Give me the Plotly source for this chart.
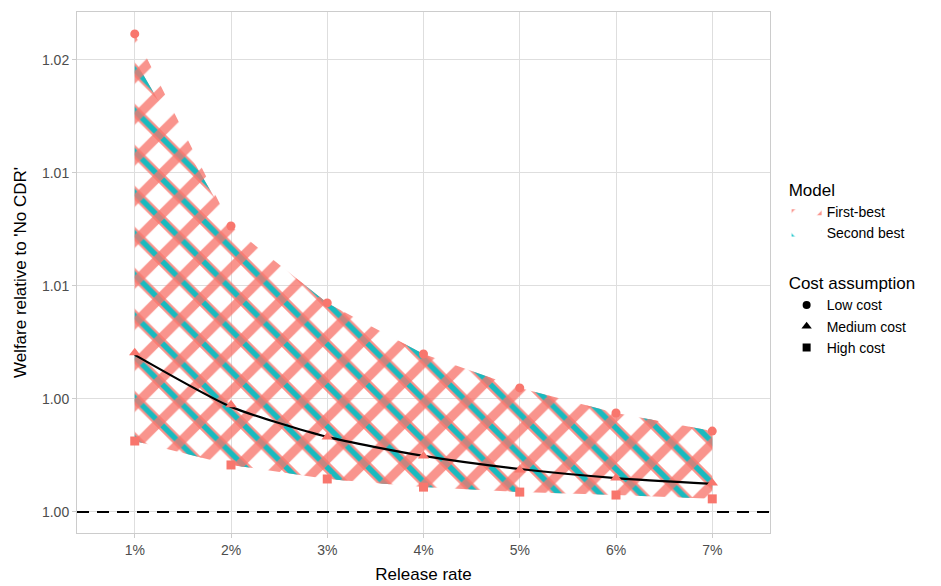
import plotly.graph_objects as go

# ---- data ----
release_rate = [1, 2, 3, 4, 5, 6, 7]
x_tick_labels = ["1%", "2%", "3%", "4%", "5%", "6%", "7%"]
low_cost = [1.02115, 1.01265, 1.00925, 1.00699, 1.00549, 1.00438, 1.00358]
medium_cost = [1.00704, 1.00474, 1.00332, 1.00248, 1.00186, 1.00150, 1.00128]
high_cost = [1.00314, 1.00208, 1.00146, 1.00110, 1.00088, 1.00075, 1.00058]
second_best_low = [1.02000, 1.01265, 1.00925, 1.00699, 1.00549, 1.00438, 1.00358]
trend_line = [1.00695, 1.00465, 1.00332, 1.00248, 1.00190, 1.00150, 1.00124]
y_tick_vals = [1.000, 1.005, 1.010, 1.015, 1.020]
y_tick_labels = ["1.00", "1.00", "1.01", "1.01", "1.02"]

RED = "#F8766D"
TEAL = "#00BFC4"
FONT = "Liberation Sans"
PSIZE = 29

fig = go.Figure()

def ribbon(lo, hi):
    xs = release_rate + release_rate[::-1]
    ys = lo + hi[::-1]
    return xs, ys

# Second best: red-edged teal stripes "\"
xs, ys = ribbon(high_cost, second_best_low)
fig.add_trace(go.Scatter(
    x=xs, y=ys, fill="toself", mode="lines", line=dict(width=0),
    fillcolor="rgba(0,0,0,0)",
    fillpattern=dict(shape="\\", fgcolor=RED, fgopacity=0.8, bgcolor="rgba(0,0,0,0)",
                     size=PSIZE, solidity=0.34),
    showlegend=False, hoverinfo="skip"))
fig.add_trace(go.Scatter(
    x=xs, y=ys, fill="toself", mode="lines", line=dict(width=0),
    fillcolor="rgba(0,0,0,0)",
    fillpattern=dict(shape="\\", fgcolor=TEAL, fgopacity=0.9, bgcolor="rgba(0,0,0,0)",
                     size=PSIZE, solidity=0.19),
    name="Second best", legend="legend", legendrank=2, hoverinfo="skip"))

# First-best: red stripes "/"
xs, ys = ribbon(high_cost, low_cost)
fig.add_trace(go.Scatter(
    x=xs, y=ys, fill="toself", mode="lines", line=dict(width=0),
    fillcolor="rgba(0,0,0,0)",
    fillpattern=dict(shape="/", fgcolor=RED, fgopacity=0.78, bgcolor="rgba(0,0,0,0)",
                     size=PSIZE, solidity=0.32),
    name="First-best", legend="legend", legendrank=1, hoverinfo="skip"))

# Reference dashed line at 1.00
fig.add_hline(y=1.0, line=dict(color="black", width=2, dash="12px,8px"))

# trend line
fig.add_trace(go.Scatter(x=release_rate, y=trend_line, mode="lines",
                         line=dict(color="black", width=2.2, shape="spline", smoothing=0.6),
                         showlegend=False))

# points
for vals, sym, sz in [(low_cost, "circle", 9), (medium_cost, "triangle-up", 10), (high_cost, "square", 9)]:
    fig.add_trace(go.Scatter(x=release_rate, y=vals, mode="markers",
                             marker=dict(color=RED, symbol=sym, size=sz, line=dict(width=0)),
                             showlegend=False))

# legend dummies for cost assumption
for name, sym, sz in [("Low cost", "circle", 8), ("Medium cost", "triangle-up", 9), ("High cost", "square", 8)]:
    fig.add_trace(go.Scatter(x=[None], y=[None], mode="markers", name=name,
                             marker=dict(color="black", symbol=sym, size=sz),
                             legend="legend2"))

fig.update_layout(
    width=941, height=586,
    margin=dict(l=69, r=179, t=4, b=61),
    paper_bgcolor="white", plot_bgcolor="white",
    font=dict(family=FONT, color="black", size=14),
    legend=dict(title=dict(text="Model", font=dict(size=17)),
                x=1.024, xanchor="left", y=0.69, yanchor="top",
                font=dict(size=14), tracegroupgap=0, itemsizing="constant",
                bgcolor="rgba(0,0,0,0)"),
    legend2=dict(title=dict(text="Cost assumption", font=dict(size=17)),
                 x=1.024, xanchor="left", y=0.51, yanchor="top",
                 font=dict(size=14), tracegroupgap=0,
                 bgcolor="rgba(0,0,0,0)"),
)

fig.update_xaxes(
    range=[0.4, 7.6], tickvals=release_rate, ticktext=x_tick_labels,
    showgrid=True, gridcolor="#DEDEDE", gridwidth=1,
    showline=True, linecolor="#CCCCCC", linewidth=1, mirror=True,
    ticks="outside", ticklen=4, tickcolor="#CCCCCC",
    tickfont=dict(size=14, color="#4D4D4D", family=FONT),
    title=dict(text="Release rate", font=dict(size=17, family=FONT), standoff=11),
    zeroline=False, automargin=False)
fig.update_yaxes(
    range=[0.99907, 1.02212], tickvals=y_tick_vals, ticktext=y_tick_labels,
    showgrid=True, gridcolor="#DEDEDE", gridwidth=1,
    showline=True, linecolor="#CCCCCC", linewidth=1, mirror=True,
    ticks="outside", ticklen=4, tickcolor="#CCCCCC",
    tickfont=dict(size=14, color="#4D4D4D", family=FONT),
    title=dict(text="Welfare relative to 'No CDR'", font=dict(size=17, family=FONT), standoff=11),
    zeroline=False, automargin=False)

fig.write_html("out.html")
